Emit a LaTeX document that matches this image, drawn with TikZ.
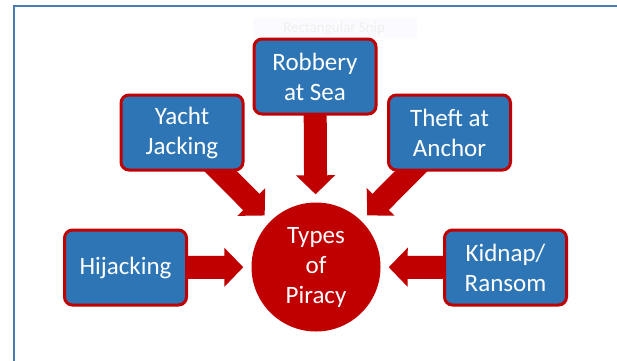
\documentclass[tikz,border=0pt]{standalone}
\usepackage{fontspec}
\setmainfont{Carlito}
\usepackage{tikz}
\usetikzlibrary{arrows.meta,backgrounds}
\definecolor{piracyred}{HTML}{C00000}
\definecolor{piracyblue}{HTML}{2E75B6}
\definecolor{frameblue}{HTML}{4A7BB7}
\tikzset{
  piracybox/.style={draw=piracyred,line width=3pt,fill=piracyblue,rounded corners=8pt,
    minimum width=122pt,minimum height=75pt,align=center,text=white,
    font=\fontsize{25}{30}\selectfont},
  typecircle/.style={circle,fill=piracyred,minimum size=129pt,inner sep=0pt,align=center,
    text=white,font=\fontsize{25}{30}\selectfont},
  bigarrow/.style={draw=piracyred,line width=23pt,-{Triangle[length=19pt,width=38pt]},shorten >=8pt}
}
\begin{document}
\begin{tikzpicture}[x=1pt,y=-1pt]
        \useasboundingbox (0,0) rectangle (617,360);
        \draw[draw=frameblue,line width=2.5pt] (14,362) |- (619,6);
        \draw (253,18) node (snip) [fill=blue!2,anchor=north west,minimum width=164pt,minimum height=20pt,inner sep=0pt] {};
        \draw (snip.west)++(30pt,0) node (sniptext) [anchor=west,inner sep=0pt,text=black!6,font=\fontsize{15}{17}\selectfont] {Rectangular Snip};
        \draw (316,267) node (types) [typecircle] {Types\\of\\Piracy};
        \draw (315,76.5) node (robbery) [piracybox] {Robbery\\at Sea};
        \draw (182,132.5) node (yacht) [piracybox] {Yacht\\Jacking};
        \draw (449.5,132.5) node (theft) [piracybox] {Theft at\\Anchor};
        \draw (125.5,267.5) node (hijack) [piracybox] {Hijacking};
        \draw (505.5,267.5) node (kidnap) [piracybox] {Kidnap/\\Ransom};
        \begin{pgfonlayer}{background}
        \draw[bigarrow] (robbery.center) -- (types);
        \draw[bigarrow] (yacht.center) -- (types);
        \draw[bigarrow] (theft.center) -- (types);
        \draw[bigarrow] (hijack.center) -- (types);
        \draw[bigarrow] (kidnap.center) -- (types);
        \end{pgfonlayer}
\end{tikzpicture}
\end{document}
